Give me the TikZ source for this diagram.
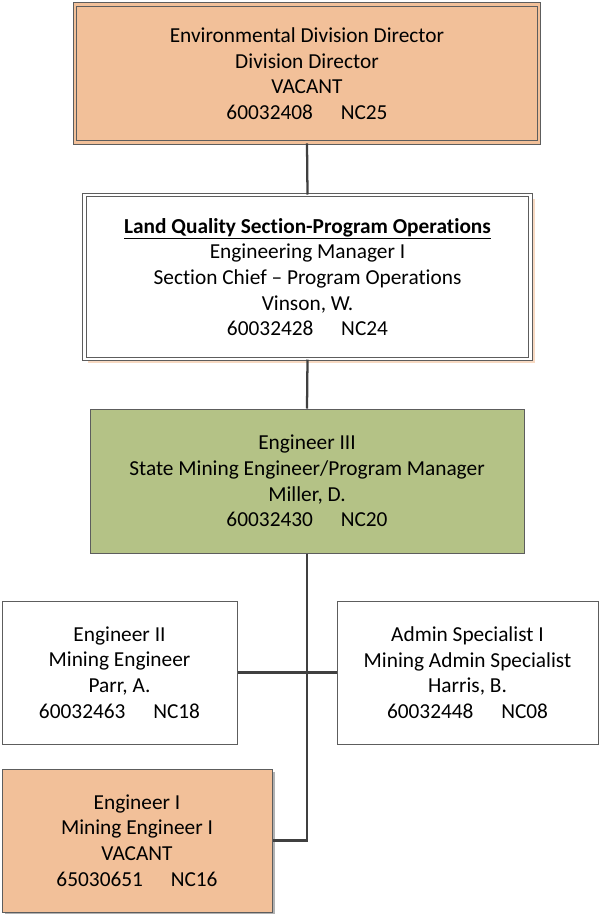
\documentclass[tikz,border=0pt]{standalone}
\usepackage{fontspec}
\setmainfont{Carlito}[Ligatures={NoCommon}]
\usetikzlibrary{shadows}
\definecolor{peach}{RGB}{242,192,153}
\definecolor{olive}{RGB}{180,194,134}
\definecolor{edge}{RGB}{64,64,64}

\begin{document}
\begin{tikzpicture}[x=0.75pt, y=-0.75pt,
  post/.style={draw=edge!85, line width=0.75pt, align=center, inner sep=0pt,
    font=\fontsize{16}{19.2}\selectfont},
  framed/.style={double distance=2.2pt},
  link/.style={draw=edge, line width=1.7pt}]
\useasboundingbox (0,0) rectangle (600,914);
\node [post, framed, fill=peach, double=peach, minimum width=348pt, minimum height=104pt] (dir) at (307,73.5)
  {Environmental Division Director\\Division Director\\VACANT\\60032408\hspace{1.3em}NC25};
\node [post, framed, fill=white, double=white, minimum width=335pt, minimum height=123pt,
  drop shadow={shadow xshift=3pt, shadow yshift=-3pt, fill=peach!60, opacity=1}] (chief) at (307.5,277)
  {\underline{\textbf{Land Quality Section-Program Operations}}\\Engineering Manager I\\Section Chief -- Program Operations\\Vinson, W.\\60032428\hspace{1.3em}NC24};
\node [post, fill=olive, minimum width=325.5pt, minimum height=108pt] (sme) at (307,481)
  {Engineer III\\State Mining Engineer/Program Manager\\Miller, D.\\60032430\hspace{1.3em}NC20};
\node [post, fill=white, minimum width=176.25pt, minimum height=107.25pt] (eng2) at (119.5,672.5)
  {Engineer II\\Mining Engineer\\Parr, A.\\60032463\hspace{1.3em}NC18};
\node [post, fill=white, minimum width=195.75pt, minimum height=107.25pt] (admin) at (467.5,672.5)
  {Admin Specialist I\\Mining Admin Specialist\\Harris, B.\\60032448\hspace{1.3em}NC08};
\node [post, fill=peach, minimum width=202.5pt, minimum height=107.25pt,
  drop shadow={shadow xshift=2.5pt, shadow yshift=-2.5pt, fill=gray!60, opacity=1}] (eng1) at (137,840.5)
  {Engineer I\\Mining Engineer I\\VACANT\\65030651\hspace{1.3em}NC16};
\draw [link] (dir.south) -- (chief.north);
\draw [link] (chief.south) -- (sme.north);
\draw [link] (sme.south) |- (eng1.east);
\draw [link] (eng2.east) -- (admin.west);
\end{tikzpicture}
\end{document}
